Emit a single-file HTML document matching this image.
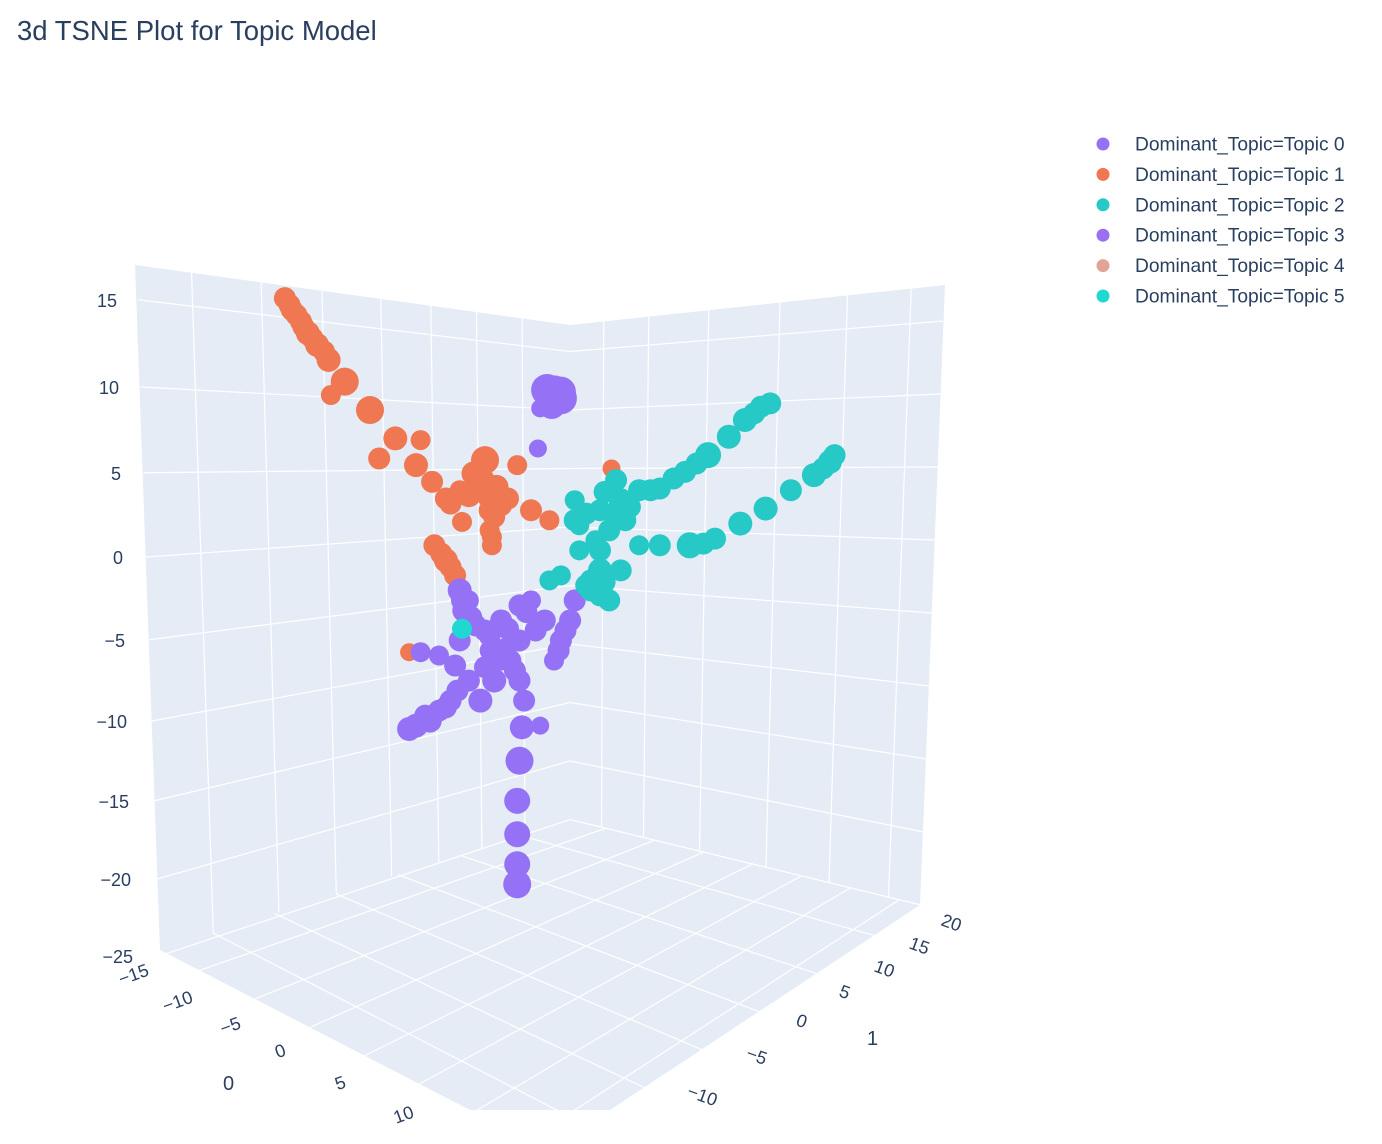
<!DOCTYPE html>
<html><head><meta charset="utf-8"><style>
body{margin:0;background:#fff;width:1382px;height:1144px;overflow:hidden;font-family:"Liberation Sans",sans-serif}
svg{position:absolute;left:0;top:0}
</style></head><body>
<svg id="chart" width="1382" height="1144">
<text x="17" y="40" font-size="27.5" fill="#2a3f5f">3d TSNE Plot for Topic Model</text>
<g id="scene"></g>
<g id="legend"></g>
</svg>
<script>
const topicNames=["Dominant_Topic=Topic 0","Dominant_Topic=Topic 1","Dominant_Topic=Topic 2","Dominant_Topic=Topic 3","Dominant_Topic=Topic 4","Dominant_Topic=Topic 5"];
const topicColors=["#9572f5","#ef7752","#26c9c6","#9a6ff0","#e0a597","#1fd8d2"];
const zTicks=[15,10,5,0,-5,-10,-15,-20,-25];
const leftTicks=["-15","-10","-5","0","5","10"];
const rightTicks=["20","15","10","5","0","-5","-10"];
// Topic 1 (orange)
const t1X=[-8.7,-8.4,-8.0,-7.7,-7.3,-6.8,-6.1,-6.7,-5.0,-3.9,-2.8,-4.6,-3.0,-2.3,-1.7,-1.1,0,-0.2,0.2,0.7,-0.7,1.4,2.0,2.8,-1.0,-2.2,-1.7,-1.3,0.3,0.2,5.5,-3.3,-8.5,-8.2,-7.9,-7.5,-7.0,-0.5,0.5,1.0,-1.5,0.4,-1.9,-1.5,0.2,0.3];
const t1Z=[15.5,14.8,14.1,13.4,12.7,11.8,10.5,9.7,8.8,7.1,7.0,5.9,5.5,4.5,3.5,4.0,5.8,4.6,3.7,3.1,3.7,5.5,2.8,2.2,2.1,0.7,-0.2,-1.1,0.7,2.8,5.3,-5.7,15.1,14.5,13.8,13.1,12.3,5.0,4.2,3.5,3.2,2.4,0.2,-0.6,1.6,1.2];
const t1S=[11,11,11,12,12,12,14,10,14,12,10,11,12,11,11,10,14,14,13,11,12,10,11,10,10,11,12,11,10,11,9,9,11,11,11,11,11,12,12,11,11,11,11,11,10,10];
// Topic 0 (purple)
const t0X=[3.0,2.4,2.3,3.3,-1.1,-0.9,-0.4,0.2,0.7,1.5,2.0,2.6,1.5,1.1,0.4,-0.2,-0.7,-1.5,-2.0,-2.6,-3.0,-2.8,-2.0,-1.3,1.5,1.7,1.6,1.5,1.4,1.4,1.4,1.4,3.9,3.7,3.3,3.0,2.4,0.2,0.7,-1.1,-0.7,2.7,3.3,2.9,-3.3,-2.4,-1.7,-1.2,-1.0,-0.6,0.0,1.0,1.8,0.9,1.3,0.0,2.2,3.5,3.2];
const t0Z=[9.8,8.9,6.5,9.5,-2.0,-3.2,-4.1,-4.7,-3.8,-2.9,-2.6,-3.8,-5.0,-6.2,-7.4,-8.6,-7.4,-8.6,-9.2,-9.5,-10.1,-5.7,-5.9,-6.5,-7.4,-8.6,-10.2,-12.2,-14.6,-16.6,-18.4,-19.6,-2.6,-3.8,-5.0,-6.2,-10.1,-5.6,-6.2,-5.0,-2.6,10.0,9.9,9.1,-10.3,-9.8,-9.0,-8.0,-2.6,-3.6,-4.4,-4.3,-3.3,-5.5,-6.8,-6.6,-4.4,-4.4,-5.6];
const t0S=[18,9,9,16,12,12,11,11,11,11,10,11,11,11,12,12,11,11,11,11,12,10,10,11,11,11,12,14,13,13,13,14,11,11,11,10,9,10,10,11,10,16,15,14,12,12,11,11,11,11,11,11,11,11,11,11,11,11,11];
// Topic 2 (teal)
const t2X=[3.9,5.0,5.9,6.7,7.6,8.7,9.7,10.6,11.3,12.0,6.7,7.6,8.9,10.0,11.1,12.2,13.3,14.3,15.0,15.2,4.6,5.0,5.9,4.8,4.1,3.9,5.7,5.9,6.1,5.4,2.8,3.3,5.4,5.0,4.6,4.1,5.0,4.4,5.2,5.6,6.3,4.4,5.2,7.2,8.2,9.2,12.4,11.7,14.7,15.1,9.5];
const t2Z=[2.2,2.8,3.4,4.0,4.1,5.1,6.1,7.2,8.2,9.0,0.7,0.7,0.7,1.1,2.0,2.9,4.0,4.9,5.7,6.1,-1.4,-0.8,-0.8,1.0,1.9,3.4,4.6,3.4,2.2,1.6,-1.4,-1.1,-2.6,-2.3,-2.0,0.4,0.4,-1.7,-1.5,2.6,3.0,2.6,3.9,4.0,4.7,5.6,9.2,8.6,5.3,5.9,0.8];
const t2S=[11,11,10,11,11,11,13,12,12,11,10,11,13,11,12,12,11,12,12,11,11,12,11,10,10,10,11,12,11,11,10,10,11,11,11,10,11,11,11,11,11,11,11,11,11,11,11,11,11,11,11];
// Topic 5 (bright teal)
const t5X=[-1.0];
const t5Z=[-4.3];
const t5S=[10];

function sx(u){return 485+23*u;}
function sz(z){return 557-16.7*z;}
function yLeft(z){return 557-16.7*z-0.03*z*z;}
function yRightCorner(z){return 527-11.7*z;}
function yRightEdge(z){return 540-14.6*z;}

const NS="http://www.w3.org/2000/svg";
const scene=document.getElementById('scene');
function mk(tag,attrs,parent){const e=document.createElementNS(NS,tag);for(const k in attrs)e.setAttribute(k,attrs[k]);(parent||scene).appendChild(e);return e;}
function lerp(a,b,t){return [a[0]+(b[0]-a[0])*t,a[1]+(b[1]-a[1])*t];}

const lw=mk('polygon',{points:"135,265 570,325 570,820 160,950",fill:"#e5ecf6"});


const rw=mk('polygon',{points:"570,325 945,285 920,905 570,820",fill:"#e5ecf6"});


const fl=mk('polygon',{points:"160,950 570,820 920,905 610,1110 470,1110",fill:"#e5ecf6"});



zTicks.forEach(z=>{
  const l=mk('polyline',{points:`${138+(15-z)*0.55},${yLeft(z)} 570,${yRightCorner(z)} ${943-(15-z)*0.55},${yRightEdge(z)}`,fill:"none",stroke:"#fff","stroke-width":1.2});
  
  
});
[0.13,0.29,0.43,0.565,0.68,0.785,0.89].forEach(t=>{
  const a=lerp([135,265],[570,325],t), b=lerp([160,950],[570,820],t);
  const l=mk('line',{x1:a[0],y1:a[1],x2:b[0],y2:b[1],stroke:"#fff","stroke-width":1.2});
  
  
});
[0.09,0.21,0.37,0.56,0.74,0.91].forEach(t=>{
  const a=lerp([570,325],[945,285],t), b=lerp([570,820],[920,905],t);
  const l=mk('line',{x1:a[0],y1:a[1],x2:b[0],y2:b[1],stroke:"#fff","stroke-width":1.2});
  
  
});
const P00=[570,820],P10=[160,950],P01=[920,905],P11=[540,1160];
function bil(u,v){const a=lerp(P00,P10,u),b=lerp(P01,P11,u);return lerp(a,b,v);}
const cp=mk('clipPath',{id:'floorclip'});
mk('polygon',{points:"160,950 570,820 920,905 610,1110 470,1110"},cp);
const fg=mk('g',{'clip-path':'url(#floorclip)'});


[0.12,0.27,0.42,0.57,0.72,0.87].forEach(u=>{const a=bil(u,0),b=bil(u,1);mk('line',{x1:a[0],y1:a[1],x2:b[0],y2:b[1],stroke:"#fff","stroke-width":1.2},fg);});
[0.1,0.24,0.38,0.52,0.66,0.8,0.94].forEach(v=>{const a=bil(0,v),b=bil(1,v);mk('line',{x1:a[0],y1:a[1],x2:b[0],y2:b[1],stroke:"#fff","stroke-width":1.2},fg);});

zTicks.forEach(z=>{
  const t=mk('text',{x:117+(15-z)*0.4,y:yLeft(z)+7,"font-size":18,fill:"#2a3f5f","text-anchor":"end"});
  t.textContent=(z<0?"\u2212":"")+Math.abs(z);
  
  
});
const leftPos=[[150,975],[194,1002],[242,1028],[287,1055],[347,1087],[415,1117]];
leftTicks.forEach((s,i)=>{
  const [x,y]=leftPos[i];
  const t=mk('text',{x:x,y:y,"font-size":18,fill:"#2a3f5f","text-anchor":"end",transform:`rotate(-20 ${x} ${y})`});
  t.textContent=s.replace('-','\u2212');
  
  
});
const rightPos=[[940,925],[908,948],[873,971],[838,996],[795,1025],[745,1058],[686,1096]];
rightTicks.forEach((s,i)=>{
  const [x,y]=rightPos[i];
  const t=mk('text',{x:x,y:y,"font-size":18,fill:"#2a3f5f",transform:`rotate(20 ${x} ${y})`});
  t.textContent=s.replace('-','\u2212');
  
  
});
const xt=mk('text',{x:223,y:1090,"font-size":20,fill:"#2a3f5f"});xt.textContent="0";


const yt=mk('text',{x:867,y:1045,"font-size":20,fill:"#2a3f5f"});yt.textContent="1";



function drawSeries(X,Z,S,color,name){
  const g=mk('g',{});
  
  
  X.forEach((x,i)=>{
    const c=mk('circle',{cx:sx(x),cy:sz(Z[i]),r:S[i],fill:color},g);
    
    
  });
}
drawSeries(t1X,t1Z,t1S,topicColors[1],'series-topic-1');
drawSeries(t0X,t0Z,t0S,topicColors[0],'series-topic-0');
drawSeries(t2X,t2Z,t2S,topicColors[2],'series-topic-2');
drawSeries(t5X,t5Z,t5S,topicColors[5],'series-topic-5');

const lg=document.getElementById('legend');
topicNames.forEach((n,i)=>{
  const y=144+i*30.4;
  const g=mk('g',{},lg);
  
  
  mk('circle',{cx:1103,cy:y,r:6.5,fill:topicColors[i]},g);
  const t=mk('text',{x:1135,y:y+6.5,"font-size":19.2,fill:"#2a3f5f"},g);
  t.textContent=n;
});
</script>
</body></html>
